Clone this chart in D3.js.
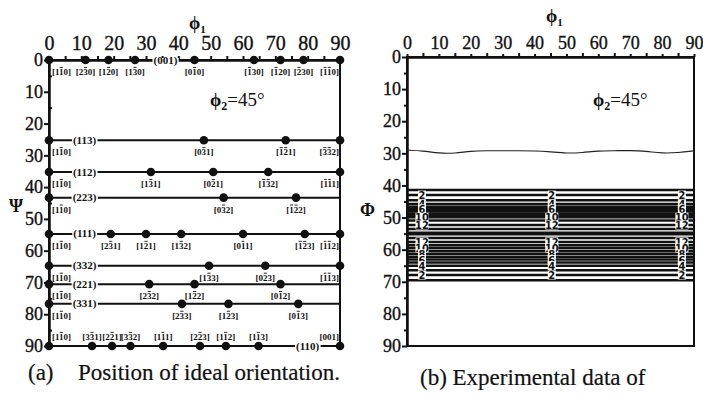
<!DOCTYPE html>
<html>
<head>
<meta charset="utf-8">
<script src="https://cdn.jsdelivr.net/npm/d3@7"></script>
<style>
    body { margin: 0; background: #fff; }
    svg { display: block; }
    .axis text { font-family: "Liberation Serif", "DejaVu Serif", serif; font-size: 18px; fill: #111; stroke: #111; stroke-width: 0.35; }
    .axis.top-l text { font-size: 20px; }
    .axis path, .axis line { stroke: #111; stroke-width: 2; }
    .dir { font-family: "Liberation Serif", "DejaVu Serif", serif; font-size: 9px; font-weight: bold; fill: #111; }
    .plane { font-family: "Liberation Serif", "DejaVu Serif", serif; font-size: 11px; font-weight: bold; fill: #111; }
    .clab { font-family: "DejaVu Sans Condensed", "DejaVu Sans", sans-serif; font-size: 11px; font-weight: bold; fill: #111; }
    .cap { font-family: "Liberation Serif", "DejaVu Serif", serif; font-size: 23px; fill: #111; stroke: #111; stroke-width: 0.2; }
    .ttl { font-family: "Liberation Serif", "DejaVu Serif", serif; font-size: 18px; font-weight: bold; fill: #111; }
</style>
</head>
<body>
<script>
// ideal orientation rows (left chart): Psi of each plane row
const rowPsi = [0, 25.24, 35.26, 43.31, 54.74, 64.76, 70.53, 76.74, 90];
const rowPlane = ["(001)", "(113)", "(112)", "(223)", "(111)", "(332)", "(221)", "(331)", "(110)"];
const rowPlanePhi1 = [36, 11, 11, 11, 11, 11, 11, 11, 80];
// phi1 of the dots on each row, "-" in a label = bar over the next digit
const rowPhi1 = [
    [0, 11.3, 18.4, 26.6, 45, 63.4, 71.6, 78.7, 90],
    [0, 47.9, 73.2, 90],
    [0, 31.5, 50.8, 67.8, 90],
    [0, 54.0, 76.4],
    [0, 19.1, 30, 40.9, 60, 79.1, 90],
    [0, 49.5, 66.9, 90],
    [0, 31, 45, 71.6],
    [0, 41.1, 55.5, 77.1],
    [0, 13.3, 19.5, 25.2, 35.3, 46.7, 54.7, 64.8, 90]
];
const rowDirs = [
    ["1-10", "2-30", "1-20", "1-30", "0-10", "-130", "-120", "-230", "-1-10"],
    ["1-10", "0-31", "-1-21", "-3-32"],
    ["1-10", "1-31", "0-21", "-1-32", "-1-11"],
    ["1-10", "0-32", "-1-22"],
    ["1-10", "2-31", "1-21", "1-32", "0-11", "-1-23", "-1-12"],
    ["1-10", "1-33", "0-23", "-1-13"],
    ["1-10", "2-32", "1-22", "0-12"],
    ["1-10", "2-33", "1-23", "0-13"],
    ["1-10", "3-31", "2-21", "3-32", "1-11", "2-23", "1-12", "1-13", "001"]
];

// experimental ODF section (right chart)
const contourLevels = [1, 2, 3, 4, 5, 6, 7, 8, 9, 10, 11, 12, 13, 14];
const phiRise = [41.4, 43.0, 44.6, 45.8, 46.6, 47.3, 48.0, 48.7, 49.3, 49.9, 50.9, 52.3, 53.6, 54.7];
const phiFall = [69.5, 67.9, 66.4, 65.0, 64.0, 63.1, 62.2, 61.3, 60.4, 59.5, 58.6, 57.6, 56.4, 55.2];
const labelLevels = [2, 4, 6, 10, 12, 12, 10, 8, 6, 4, 2];
const labelPhi1 = [4.7, 45.4, 86.2];
const wavePhi1 = [0, 5, 10, 15, 20, 25, 30, 35, 40, 45, 50, 55, 60, 65, 70, 75, 80, 85, 90];
const wavePhi = [29, 29.2, 30, 30, 29.3, 29.2, 29.2, 29.2, 29.2, 29.5, 30, 29.8, 29.2, 29.2, 29.1, 29.3, 30, 29.8, 29.2];

const ticks = d3.range(0, 91, 10);
const minor = d3.range(5, 90, 10);

const svg = d3.select("body").append("svg")
    .attr("width", 703)
    .attr("height", 394);

// ---------- left chart ----------
const xL = d3.scaleLinear().domain([0, 90]).range([49, 340]);
const yL = d3.scaleLinear().domain([0, 90]).range([60, 346]);

const left = svg.append("g");

left.append("rect")
    .attr("x", xL(0)).attr("y", yL(0))
    .attr("width", xL(90) - xL(0)).attr("height", yL(90) - yL(0))
    .attr("fill", "none").attr("stroke", "#111").attr("stroke-width", 2);

left.append("g").attr("class", "axis top-l")
    .attr("transform", "translate(0," + yL(0) + ")")
    .call(d3.axisTop(xL).tickValues(ticks).tickSize(4).tickPadding(6).tickSizeOuter(0));
left.append("g").attr("class", "axis")
    .attr("transform", "translate(0," + yL(0) + ")")
    .call(d3.axisTop(xL).tickValues(minor).tickSize(4).tickFormat("").tickSizeOuter(0));
left.append("g").attr("class", "axis")
    .attr("transform", "translate(" + xL(0) + ",0)")
    .call(d3.axisLeft(yL).tickValues(ticks).tickSize(5).tickPadding(1).tickSizeOuter(0));
left.append("g").attr("class", "axis")
    .attr("transform", "translate(" + xL(0) + ",0)")
    .call(d3.axisLeft(yL).tickValues(minor).tickSize(-3).tickFormat("").tickSizeOuter(0));

// Miller direction label with bars drawn over the digits
function dirLabel(g, x, y, code, anchor) {
    const chars = [], bars = [];
    for (let i = 0; i < code.length; i++) {
        if (code[i] === "-") { bars.push(chars.length + 1); continue; }
        chars.push(code[i]);
    }
    const t = g.append("text").attr("class", "dir")
        .attr("x", x).attr("y", y)
        .attr("text-anchor", anchor)
        .text("[" + chars.join("") + "]");
    bars.forEach(i => {
        const e = t.node().getExtentOfChar(i);
        g.append("line")
            .attr("x1", e.x + 0.7).attr("x2", e.x + e.width - 0.7)
            .attr("y1", y - 7.6).attr("y2", y - 7.6)
            .attr("stroke", "#111").attr("stroke-width", 0.9);
    });
}

rowPsi.forEach((psi, r) => {
    const yy = yL(psi);
    left.append("line")
        .attr("x1", xL(0)).attr("x2", xL(90))
        .attr("y1", yy).attr("y2", yy)
        .attr("stroke", "#111").attr("stroke-width", 2);

    // plane name sits on the line
    const pt = left.append("text").attr("class", "plane")
        .attr("x", xL(rowPlanePhi1[r])).attr("y", yy + 3.5)
        .attr("text-anchor", "middle")
        .text(rowPlane[r]);
    const bb = pt.node().getBBox();
    left.insert("rect", () => pt.node())
        .attr("x", bb.x - 1).attr("y", yy - 2)
        .attr("width", bb.width + 2).attr("height", 4)
        .attr("fill", "#fff");

    const below = r < rowPsi.length - 1;
    rowPhi1[r].forEach((p, i) => {
        left.append("circle")
            .attr("cx", xL(p)).attr("cy", yy)
            .attr("r", 4.3).attr("fill", "#111");
        let anchor = "middle", lx = xL(p);
        if (p === 0) { anchor = "start"; lx = xL(0) + 3; }
        if (p === 90) { anchor = "end"; lx = xL(90) - 1; }
        dirLabel(left, lx, below ? yy + 15 : yy - 6, rowDirs[r][i], anchor);
    });
});

left.append("text").attr("class", "ttl")
    .attr("x", 189).attr("y", 29)
    .text("ϕ").append("tspan").attr("font-size", 11).attr("dy", 4).text("1");
left.append("text").attr("class", "ttl")
    .attr("x", 9).attr("y", 212)
    .text("Ψ");
left.append("text").attr("class", "ttl")
    .attr("x", 210).attr("y", 106)
    .text("ϕ").append("tspan").attr("font-size", 12).attr("dy", 4).text("2")
    .append("tspan").attr("font-size", 19).attr("font-weight", "normal").attr("dy", -4).text("=45°");
left.append("text").attr("class", "cap")
    .attr("x", 28).attr("y", 380)
    .text("(a)");
left.append("text").attr("class", "cap")
    .attr("x", 78).attr("y", 380)
    .text("Position of ideal orientation.");

// ---------- right chart ----------
const xR = d3.scaleLinear().domain([0, 90]).range([407, 694]);
const yR = d3.scaleLinear().domain([0, 90]).range([57, 346]);

const right = svg.append("g");

right.append("rect")
    .attr("x", xR(0)).attr("y", yR(0))
    .attr("width", xR(90) - xR(0)).attr("height", yR(90) - yR(0))
    .attr("fill", "none").attr("stroke", "#111").attr("stroke-width", 2);

right.append("g").attr("class", "axis")
    .attr("transform", "translate(0," + yR(0) + ")")
    .call(d3.axisTop(xR).tickValues(ticks).tickSize(3).tickPadding(5).tickSizeOuter(0));
right.append("g").attr("class", "axis")
    .attr("transform", "translate(0," + yR(0) + ")")
    .call(d3.axisTop(xR).tickValues(minor).tickSize(4).tickFormat("").tickSizeOuter(0));
right.append("g").attr("class", "axis")
    .attr("transform", "translate(" + xR(0) + ",0)")
    .call(d3.axisLeft(yR).tickValues(ticks).tickSize(5).tickPadding(1).tickSizeOuter(0));
right.append("g").attr("class", "axis")
    .attr("transform", "translate(" + xR(0) + ",0)")
    .call(d3.axisLeft(yR).tickValues(minor).tickSize(3).tickFormat("").tickSizeOuter(0));

// low level wavy contour
right.append("path")
    .datum(wavePhi1.map((p, i) => [p, wavePhi[i]]))
    .attr("d", d3.line().x(d => xR(d[0])).y(d => yR(d[1])).curve(d3.curveBasis))
    .attr("fill", "none").attr("stroke", "#222").attr("stroke-width", 1.1);

// dense band of contour lines
const bandLines = [];
contourLevels.forEach((lv, i) => {
    bandLines.push({ level: lv, phi: phiRise[i], side: 0 });
});
contourLevels.slice().reverse().forEach((lv, i) => {
    bandLines.push({ level: lv, phi: phiFall[phiFall.length - 1 - i], side: 1 });
});

right.selectAll(".cline")
    .data(bandLines)
    .enter().append("line")
    .attr("class", "cline")
    .attr("x1", xR(0)).attr("x2", xR(90))
    .attr("y1", d => yR(d.phi)).attr("y2", d => yR(d.phi))
    .attr("stroke", "#111").attr("stroke-width", 2.5);

// level labels, drawn top to bottom so each covers the one above
labelLevels.forEach((lv, k) => {
    const side = k < 5 ? 0 : 1;
    const phi = (side === 0 ? phiRise : phiFall)[contourLevels.indexOf(lv)];
    labelPhi1.forEach(p => {
        const w = lv >= 10 ? 13 : 8;
        right.append("rect")
            .attr("x", xR(p) - w / 2).attr("y", yR(phi) - 4.5)
            .attr("width", w).attr("height", 9)
            .attr("fill", "#fff");
        right.append("text").attr("class", "clab")
            .attr("x", xR(p)).attr("y", yR(phi) + 4)
            .attr("text-anchor", "middle")
            .text(lv);
    });
});

right.append("text").attr("class", "ttl")
    .attr("x", 546).attr("y", 22)
    .text("ϕ").append("tspan").attr("font-size", 11).attr("dy", 4).text("1");
right.append("text").attr("class", "ttl")
    .attr("x", 360).attr("y", 216)
    .text("Φ");
right.append("text").attr("class", "ttl")
    .attr("x", 593).attr("y", 106)
    .text("ϕ").append("tspan").attr("font-size", 12).attr("dy", 4).text("2")
    .append("tspan").attr("font-size", 19).attr("font-weight", "normal").attr("dy", -4).text("=45°");
right.append("text").attr("class", "cap")
    .attr("x", 420).attr("y", 385)
    .text("(b) Experimental data of");
</script>
</body>
</html>
